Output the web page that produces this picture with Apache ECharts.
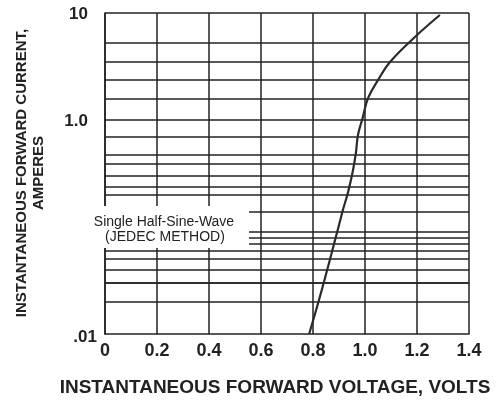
<!DOCTYPE html>
<html>
<head>
<meta charset="utf-8">
<script src="https://cdn.jsdelivr.net/npm/echarts@6/dist/echarts.min.js"></script>
<style>
    html, body { margin: 0; padding: 0; background: #fff; }
    #main { width: 501px; height: 401px; }
</style>
</head>
<body>
<div id="main"></div>
<script>
    // forward voltage (V) and current (A)
    var voltage = [0.785, 0.823, 0.870, 0.915, 0.935, 0.954, 0.965, 0.973, 0.992, 1.012, 1.050, 1.096, 1.192, 1.288];
    var current = [0.01, 0.0208, 0.055, 0.144, 0.212, 0.341, 0.492, 0.724, 1.07, 1.61, 2.36, 3.48, 5.97, 9.58];
    // horizontal grid lines as drawn on the sheet (not a true log grid)
    var gridCurrent = [10, 5.24, 3.48, 2.36, 1.57, 1, 0.694, 0.471, 0.388, 0.30, 0.2416, 0.2034,
        0.1351, 0.0898, 0.0806, 0.0709, 0.0610, 0.0502, 0.0414, 0.0327, 0.0275, 0.0183];
    var xTicks = [0, 0.2, 0.4, 0.6, 0.8, 1.0, 1.2, 1.4];
    var yLabels = {'1': '10', '0': '1.0', '-2': '.01'};

    var ink = '#222';
    var lineData = voltage.map(function (v, i) { return [v, current[i]]; });

    var myChart = echarts.init(document.getElementById('main'));
    var option = {
        animation: false,
        grid: { left: 105, right: 32, top: 13, bottom: 67 },
        xAxis: {
            type: 'value',
            min: xTicks[0],
            max: xTicks[xTicks.length - 1],
            interval: 0.2,
            axisLine: { lineStyle: { color: ink, width: 1.5 } },
            axisTick: { show: false },
            splitLine: { show: true, lineStyle: { color: ink, width: 1.5 } },
            axisLabel: {
                margin: 8,
                color: ink,
                fontFamily: 'Liberation Sans',
                fontWeight: 'bold',
                fontSize: 18,
                formatter: function (v) { return v === 0 ? '0' : v.toFixed(1); }
            }
        },
        yAxis: {
            type: 'log',
            logBase: 10,
            min: 0.01,
            max: 10,
            axisLine: { show: true, lineStyle: { color: ink, width: 1.5 } },
            axisTick: { show: false },
            splitLine: { show: false },
            axisLabel: {
                margin: 8,
                showMinLabel: true,
                showMaxLabel: true,
                formatter: function (v) {
                    var k = String(Math.round(Math.log10(v)));
                    if (!yLabels[k]) return '';
                    return k === '-2' ? '{b|' + yLabels[k] + '}' : '{a|' + yLabels[k] + '}';
                },
                rich: {
                    a: { color: ink, fontFamily: 'Liberation Sans', fontWeight: 'bold', fontSize: 17, padding: [2, 9, 0, 0] },
                    b: { color: ink, fontFamily: 'Liberation Sans', fontWeight: 'bold', fontSize: 17, padding: [6, 0, 0, 0] }
                }
            }
        },
        series: [{
            name: 'grid',
            type: 'line',
            data: [],
            z: 1,
            silent: true,
            markLine: {
                silent: true,
                symbol: 'none',
                label: { show: false },
                lineStyle: { type: 'solid', color: ink, width: 1.5 },
                data: gridCurrent.map(function (v) { return { yAxis: v }; })
            }
        }, {
            name: 'IF',
            type: 'line',
            data: lineData,
            z: 5,
            smooth: 0.4,
            showSymbol: false,
            lineStyle: { color: '#2a2a2a', width: 2.2 }
        }],
        graphic: [{
            type: 'rect',
            z: 100,
            shape: { x: 84, y: 206, width: 165, height: 42 },
            style: { fill: '#fff' }
        }, {
            type: 'text',
            z: 101,
            x: 164, y: 222,
            style: {
                text: 'Single Half-Sine-Wave',
                fill: ink, font: '14px "Liberation Sans"',
                align: 'center', verticalAlign: 'middle'
            }
        }, {
            type: 'text',
            z: 101,
            x: 165, y: 237,
            style: {
                text: '(JEDEC METHOD)',
                fill: ink, font: '14px "Liberation Sans"',
                align: 'center', verticalAlign: 'middle'
            }
        }, {
            type: 'text',
            z: 101,
            x: 275, y: 388,
            style: {
                text: 'INSTANTANEOUS FORWARD VOLTAGE, VOLTS',
                fill: ink, font: 'bold 19px "Liberation Sans"',
                align: 'center', verticalAlign: 'middle'
            }
        }, {
            type: 'text',
            z: 101,
            x: 22, y: 173,
            rotation: Math.PI / 2,
            style: {
                text: 'INSTANTANEOUS FORWARD CURRENT,',
                fill: ink, font: 'bold 15px "Liberation Sans"',
                align: 'center', verticalAlign: 'middle'
            }
        }, {
            type: 'text',
            z: 101,
            x: 39, y: 173,
            rotation: Math.PI / 2,
            style: {
                text: 'AMPERES',
                fill: ink, font: 'bold 15px "Liberation Sans"',
                align: 'center', verticalAlign: 'middle'
            }
        }]
    };
    myChart.setOption(option);
</script>
</body>
</html>
